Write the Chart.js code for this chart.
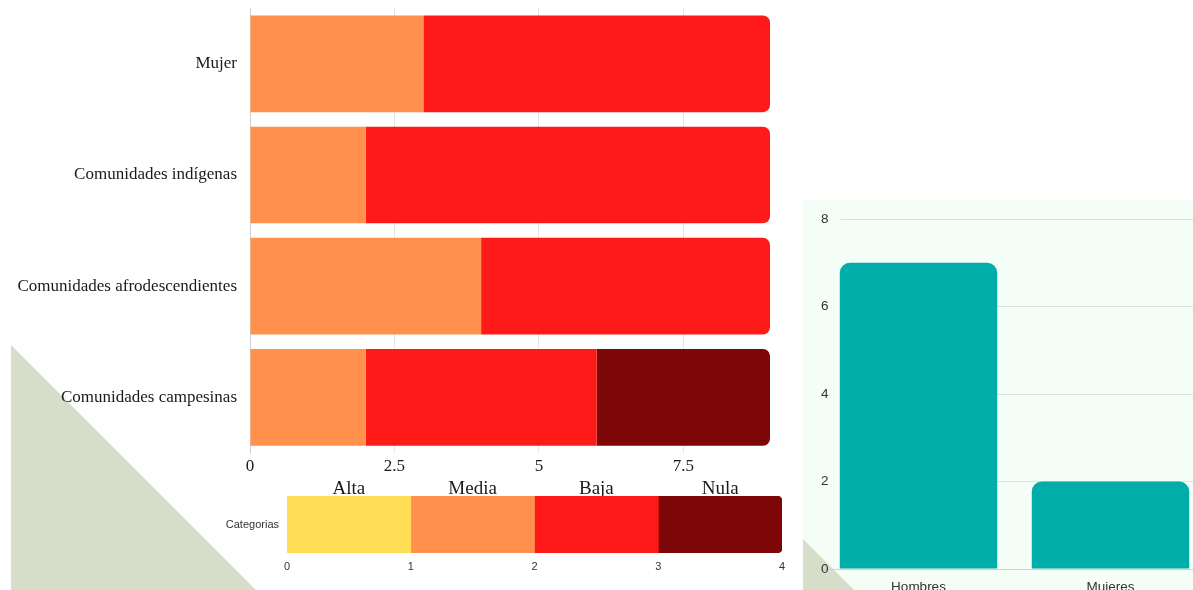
<!DOCTYPE html>
<html>
<head>
<meta charset="utf-8">
<script src="https://cdn.jsdelivr.net/npm/chart.js@4.4.1/dist/chart.umd.min.js"></script>
<style>
  html, body { margin: 0; padding: 0; background: #fff; width: 1193px; height: 590px; overflow: hidden; position: relative; }
  .abs { position: absolute; }
  #triLeft { left: 11px; top: 345px; width: 245px; height: 245px; background: #d6ddc8; clip-path: polygon(0 0, 0 100%, 100% 100%); }
  #panel { left: 803px; top: 200px; width: 390px; height: 390px; background: #f5fdf7; }
  #triRight { left: 803px; top: 539px; width: 51px; height: 51px; background: #d6ddc8; clip-path: polygon(0 0, 0 100%, 100% 100%); }
</style>
</head>
<body>
<div id="triLeft" class="abs"></div>
<div id="panel" class="abs"></div>
<div id="triRight" class="abs"></div>
<canvas id="mainChart" class="abs" style="left:0;top:-15px" width="790" height="495"></canvas>
<canvas id="legendChart" class="abs" style="left:200px;top:470px" width="595" height="108"></canvas>
<canvas id="genderChart" class="abs" style="left:803px;top:200px" width="410" height="400"></canvas>
<script>
// Data
const categorias = ['Mujer', 'Comunidades indígenas', 'Comunidades afrodescendientes', 'Comunidades campesinas'];
const niveles = ['Alta', 'Media', 'Baja', 'Nula'];
const alta = [0, 0, 0, 0];
const media = [3, 2, 4, 2];
const baja = [6, 7, 5, 4];
const nula = [0, 0, 0, 3];
const xTicks = [0, 2.5, 5, 7.5];

const leyendaCategoria = ['Categorias'];
const leyendaValores = [1, 1, 1, 1];
const leyendaTicks = [0, 1, 2, 3, 4];

const generos = ['Hombres', 'Mujeres'];
const conteos = [7, 2];
const yTicks = [0, 2, 4, 6, 8];

// Colors
const nivelColores = ['#ffdd55', '#ff914d', '#ff1a1a', '#7d0707'];
const serif = "'Liberation Serif', 'Times New Roman', serif";
const sans = "'Liberation Sans', Arial, sans-serif";

Chart.defaults.animation = false;
Chart.defaults.responsive = false;
Chart.defaults.plugins.legend.display = false;
Chart.defaults.plugins.tooltip.enabled = false;

// Stacked horizontal chart
const series = [alta, media, baja, nula];
new Chart(document.getElementById('mainChart'), {
    type: 'bar',
    data: {
        labels: categorias,
        datasets: series.map((d, i) => ({
            label: niveles[i],
            data: d,
            backgroundColor: nivelColores[i],
            borderRadius: 7,
            barPercentage: 0.87,
            categoryPercentage: 1
        }))
    },
    options: {
        indexAxis: 'y',
        layout: { padding: { top: 8, right: 20, left: 0, bottom: 0 } },
        scales: {
            x: {
                stacked: true,
                min: 0,
                max: 9,
                afterBuildTicks: s => { s.ticks = xTicks.map(v => ({ value: v })); },
                afterFit: s => { s.height = 27; },
                grid: { drawTicks: false, color: 'rgba(0,0,0,0.1)' },
                border: { display: false },
                ticks: { font: { family: serif, size: 17 }, color: '#1a1a1a', padding: 3, autoSkip: false }
            },
            y: {
                stacked: true,
                afterFit: s => { s.width = 250; },
                grid: { display: false, drawTicks: false },
                border: { display: true, color: 'rgba(0,0,0,0.1)' },
                ticks: { font: { family: serif, size: 17 }, color: '#1a1a1a', padding: 13 }
            }
        }
    }
});

// Category legend bar
new Chart(document.getElementById('legendChart'), {
    type: 'bar',
    data: {
        labels: leyendaCategoria,
        datasets: niveles.map((n, i) => ({
            label: n,
            data: [leyendaValores[i]],
            backgroundColor: nivelColores[i],
            borderRadius: 5,
            barPercentage: 1,
            categoryPercentage: 1
        }))
    },
    options: {
        indexAxis: 'y',
        layout: { padding: { top: 0, right: 13, left: 0, bottom: 0 } },
        scales: {
            x: {
                stacked: true,
                min: 0,
                max: 4,
                afterBuildTicks: s => { s.ticks = leyendaTicks.map(v => ({ value: v })); },
                afterFit: s => { s.height = 25; },
                grid: { display: false, drawTicks: false },
                border: { display: false },
                ticks: { font: { family: sans, size: 11 }, color: '#333', padding: 7 }
            },
            x2: {
                position: 'top',
                type: 'linear',
                min: 0,
                max: 4,
                afterBuildTicks: s => { s.ticks = niveles.map((n, i) => ({ value: i + 0.5 })); },
                afterFit: s => { s.height = 26; },
                grid: { display: false, drawTicks: false },
                border: { display: false },
                ticks: {
                    autoSkip: false,
                    font: { family: serif, size: 19 },
                    color: '#1a1a1a',
                    padding: -4,
                    callback: (v, i) => niveles[i]
                }
            },
            y: {
                stacked: true,
                afterFit: s => { s.width = 87; },
                grid: { display: false, drawTicks: false },
                border: { display: false },
                ticks: { font: { family: sans, size: 11 }, color: '#333', padding: 8 }
            }
        }
    }
});

// Gender bar chart
new Chart(document.getElementById('genderChart'), {
    type: 'bar',
    data: {
        labels: generos,
        datasets: [{
            label: 'Cantidad',
            data: conteos,
            backgroundColor: '#00ada8',
            borderRadius: 10,
            barPercentage: 0.82,
            categoryPercentage: 1
        }]
    },
    options: {
        layout: { padding: { top: 19, right: 6.5, left: 0, bottom: 0 } },
        scales: {
            x: {
                afterFit: s => { s.height = 31; },
                grid: { display: false, drawTicks: false },
                border: { display: true, color: '#cfd3cf' },
                ticks: { font: { family: sans, size: 13.5 }, color: '#333', padding: 10 }
            },
            y: {
                min: 0,
                max: 8,
                afterBuildTicks: s => { s.ticks = yTicks.map(v => ({ value: v })); },
                afterFit: s => { s.width = 19.5; },
                grid: { drawTicks: false, color: 'rgba(0,0,0,0.1)' },
                border: { display: false },
                ticks: {
                    font: { family: sans, size: 13.5 },
                    color: '#333',
                    mirror: true,
                    padding: -1.5,
                    showLabelBackdrop: ctx => ctx.index !== 0,
                    backdropColor: '#f5fdf7',
                    backdropPadding: { top: 0, bottom: 0, left: 2, right: 12 }
                }
            }
        }
    }
});
</script>
</body>
</html>
